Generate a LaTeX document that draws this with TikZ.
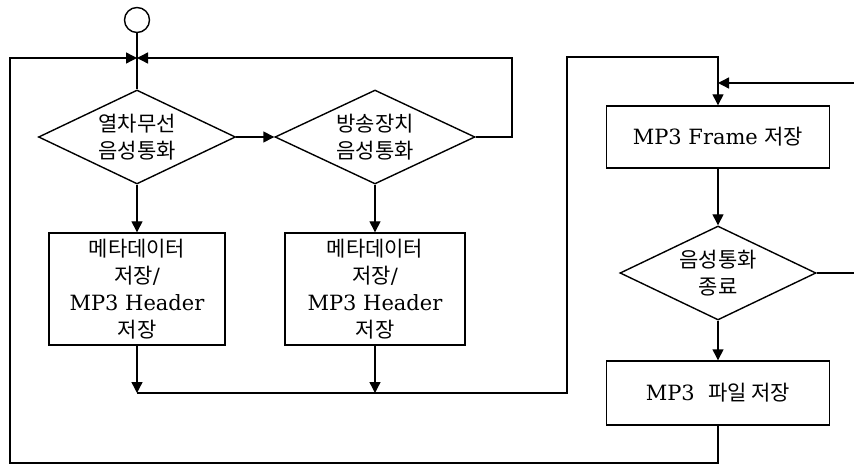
\documentclass[tikz,border=0pt]{standalone}
\usepackage{fontspec}
\setmainfont{DejaVu Serif}
\newfontfamily\kr{Noto Sans CJK KR}
\usetikzlibrary{shapes.geometric,arrows.meta}
\newcommand\lbl{\fontsize{21}{27}\selectfont}
\begin{document}
\begin{tikzpicture}[x=1pt,y=-1pt,
  flow/.style={line width=1.4pt, draw=black},
  arr/.style={flow, -{Triangle[length=11pt,width=11pt]}},
  procbox/.style={draw, line width=1.4pt, rectangle, inner sep=0pt, align=center, font=\lbl},
  decision/.style={draw, line width=1.4pt, diamond, aspect=2.1, inner sep=0pt, align=center, font=\lbl},
]
\useasboundingbox (0,0) rectangle (854,465);

% start marker and loop junction
\node[circle, draw, line width=1.4pt, minimum size=25pt, inner sep=0pt] (start) at (137,20) {};
\coordinate (join) at (137,58);

% left column: call type decisions and metadata storage
\node[decision, minimum width=197pt, minimum height=94pt] (d1) at (137,137) {{\kr 열차무선}\\{\kr 음성통화}};
\node[decision, minimum width=200pt, minimum height=94pt] (d2) at (375,137) {{\kr 방송장치}\\{\kr 음성통화}};
\node[procbox, minimum width=176pt, minimum height=112pt] (b1) at (137,289) {{\kr 메타데이터}\\{\kr 저장}/\\MP3 Header\\{\kr 저장}};
\node[procbox, minimum width=180pt, minimum height=112pt] (b2) at (375,289) {{\kr 메타데이터}\\{\kr 저장}/\\MP3 Header\\{\kr 저장}};

% right column: frame storage loop
\node[procbox, minimum width=223pt, minimum height=62pt] (b3) at (718,137) {MP3 Frame {\kr 저장}};
\node[decision, minimum width=196pt, minimum height=94pt] (d3) at (718,273) {{\kr 음성통화}\\{\kr 종료}};
\node[procbox, minimum width=223pt, minimum height=64pt] (b4) at (718,393) {MP3\ \ {\kr 파일 저장}};

% routing points
\coordinate (m1) at (137,393);
\coordinate (m2) at (375,393);
\coordinate (mr) at (567,393);
\coordinate (tr) at (567,57);
\coordinate (rl) at (512,58);
\coordinate (bl) at (10,463);
\coordinate (edgeT) at (854,83);
\coordinate (edgeB) at (854,273);
\coordinate (tin) at (718,83);

% connectors
\draw[flow] (start) -- (d1.north);
\draw[arr] (d1.east) -- (d2.west);
\draw[arr] (d1.south) -- (b1.north);
\draw[arr] (d2.south) -- (b2.north);
\draw[arr] (b1.south) -- (m1);
\draw[arr] (b2.south) -- (m2);
\draw[arr] (m1) -- (mr) -- (tr) -| (b3.north);
\draw[arr] (d2.east) -| (rl) -- (join);
\draw[arr] (b4.south) |- (bl) |- (join);
\draw[arr] (b3.south) -- (d3.north);
\draw[arr] (d3.south) -- (b4.north);
\draw[flow] (d3.east) -- (edgeB);
\draw[arr] (edgeT) -- (tin);
\end{tikzpicture}
\end{document}
